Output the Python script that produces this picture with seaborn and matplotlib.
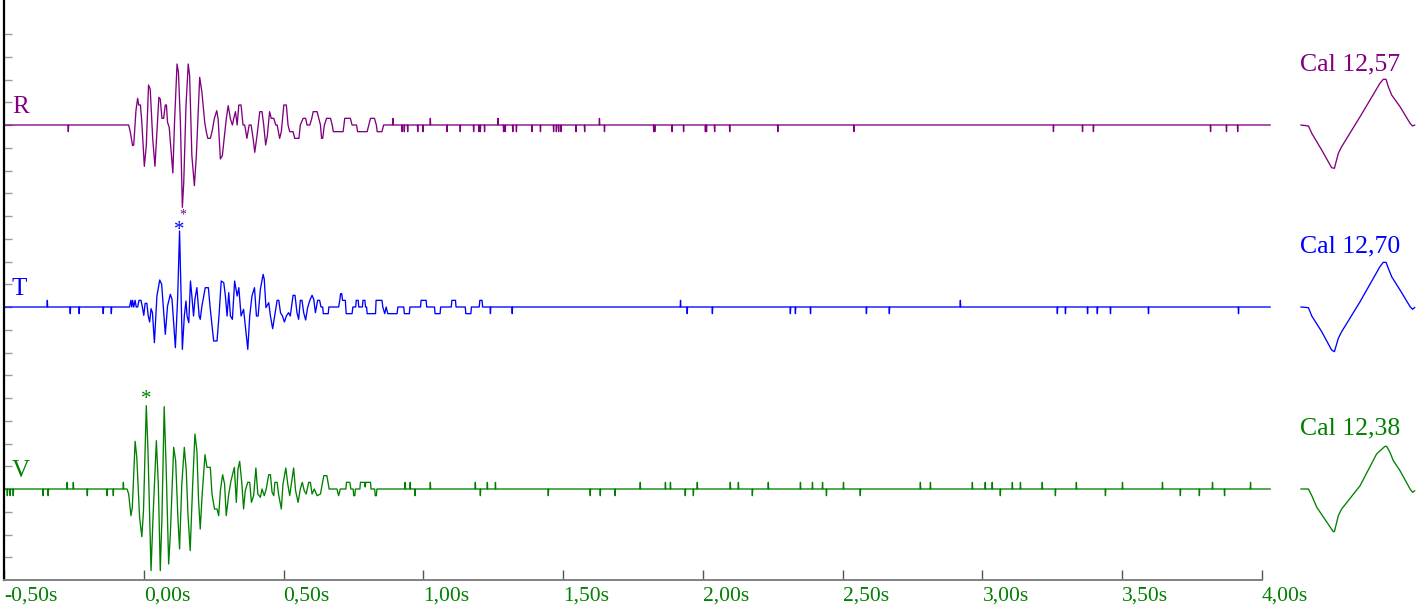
import matplotlib
matplotlib.use("Agg")
import matplotlib.pyplot as plt
import pandas as pd
import seaborn as sns

# ---------------------------------------------------------------- data ----
# time axis (seconds) and its labels
time_ticks = [-0.5, 0.0, 0.5, 1.0, 1.5, 2.0, 2.5, 3.0, 3.5, 4.0]
time_labels = ["-0,50s", "0,00s", "0,50s", "1,00s", "1,50s",
               "2,00s", "2,50s", "3,00s", "3,50s", "4,00s"]

channels = ["R", "T", "V"]
cal_values = ["12,57", "12,70", "12,38"]

# waveform turning points: (time in ms, amplitude in counts)
R_wave = [(-54, 0), (-48, -1.1), (-40, -3.1), (-36, -3.0), (-28, 2.15), (-22, 4.0),
          (-18, 3.0), (-12, 3.0), (-7, 0.4), (2, -6.2), (9, -3.1), (17, 6.0),
          (23, 5.4), (32, -2.1), (40, -6.2), (47, -1.1), (54, 4.15), (59, 3.9),
          (65, 1), (71, 1), (77, 3), (81, 3), (85, 0.4), (91, -0.35), (104, -7.2),
          (110, 0.4), (119, 9.15), (124, 7.9), (131, 0.4), (138, -12.35),
          (143, -8.6), (151, 2.9), (159, 9.15), (164, 7.4), (172, -4.6),
          (181, -9.1), (188, -4.6), (200, 7.15), (208, 4.9), (218, 0.4),
          (224, -1.1), (229, -2), (238, -2), (245, -0.85), (252, 0.9), (261, 2.15),
          (266, 0.9), (274, -5.1), (281, -4.6), (286, -2.6), (295, 0.9), (302, 2.9),
          (310, 0.9), (317, 0), (322, 1), (328, 2), (334, 0), (340, 3), (348, 3),
          (355, 0), (361, 0), (369, -2), (377, 0), (384, 0), (391, -2), (397, -4.1),
          (405, -1.6), (415, 2), (423, 2), (429, 0), (436, -3), (442, -1.6),
          (450, 2), (456, 1), (465, 1), (472, 0), (477, 0), (486, -2), (492, -1),
          (501, 3), (510, 3), (516, 0), (522, -1), (534, -1), (540, -2), (555, -2),
          (560, 0), (570, 1), (579, 1), (584, 0), (594, 0), (601, 1), (606, 2),
          (620, 2), (626, 1), (632, 0), (636, -2), (640, -2), (646, 0), (654, 1),
          (668, 1), (674, 0), (678, -1), (713, -1), (719, 1), (739, 1), (745, 0),
          (761, 0), (765, -1), (799, -1), (805, 0), (811, 1), (825, 1), (832, 0),
          (835, -1), (852, -1), (858, 0)]
R_spikes = [(-270, -1), (891, 1), (924, -1), (932, -1), (944, -1), (980, -1),
            (999, -1), (1025, 1), (1085, -1), (1132, -1), (1180, -1), (1199, -1),
            (1204, -1), (1219, -1), (1267, 1), (1287, -1), (1293, -1), (1320, -1),
            (1333, -1), (1389, -1), (1419, -1), (1466, -1), (1476, -1), (1484, -1),
            (1493, -1), (1546, -1), (1577, -1), (1630, 1), (1648, -1), (1824, -1),
            (1828, -1), (1890, -1), (1931, -1), (2009, -1), (2013, -1), (2042, -1),
            (2096, -1), (2268, -1), (2540, -1), (3254, -1), (3358, -1), (3397, -1),
            (3816, -1), (3873, -1), (3913, -1)]

T_wave = [(-51, 0), (-46, 1), (-43, 0), (-40, 1), (-36, 0), (-31, 1), (-27, 0),
          (-22, 0), (-17, 1), (-10, 1), (-5, 0), (0, -1.25), (5, 0.55), (11, 0.55),
          (16, -1.35), (21, -2.25), (26, -0.25), (31, -0.85), (38, -5.35),
          (47, 1.65), (57, 4.05), (64, 3.4), (69, 0.55), (77, -4.1), (85, 0.15),
          (95, 1.9), (101, 1.15), (113, -6.1), (121, 1.15), (128, 11.4),
          (138, -6.35), (145, -1.35), (151, 0.9), (155, -1.35), (161, -2.35),
          (167, 3.9), (172, 1.65), (178, -1.35), (183, 1.15), (190, 2.9),
          (198, -1.35), (202, -1.85), (208, 0.15), (220, 2.9), (231, 2.9),
          (238, -0.35), (250, -5.1), (262, -5.1), (269, -1.35), (277, 3.9),
          (286, 3.65), (292, 1.65), (298, -1.35), (304, 2.15), (310, -1.35),
          (317, -1.85), (325, 3.9), (334, 1.65), (340, 2.9), (348, -1.35),
          (357, -0.35), (372, -6.35), (379, -1.35), (387, 1.65), (396, 2.9),
          (403, -1.35), (409, -1.35), (417, 2.65), (427, 4.9), (431, 4.15),
          (437, -0.1), (447, 0.65), (453, -1.35), (461, -3.25), (468, -1.35),
          (477, 1), (483, 1), (489, -0.85), (496, -1.35), (503, -2.25),
          (510, -1.35), (518, -0.85), (524, -1.35), (534, 1.75), (541, 1.75),
          (548, -0.85), (554, -1.85), (560, 1), (566, 1), (572, -0.85),
          (579, -1.95), (586, -0.1), (594, 1), (602, 1.75), (608, 1.15),
          (614, -0.85), (622, 1), (629, 1), (634, 0), (640, 0), (642, -1),
          (660, -1), (662, 0), (697, 0), (701, 1), (704, 2), (708, 2), (711, 1),
          (721, 1), (724, -1), (745, -1), (748, 0), (758, 0), (760, 1), (767, 1),
          (769, 0), (782, 0), (784, 1), (791, 1), (793, 0), (797, 0), (799, -1),
          (829, -1), (831, 1), (852, 1), (855, 0), (862, -1), (867, 0), (873, -1),
          (906, -1), (909, 0), (930, 0), (932, -1), (950, -1), (952, 0), (990, 0),
          (992, 1), (1010, 1), (1012, 0), (1040, 0), (1042, -1), (1060, -1),
          (1062, 0), (1100, 0), (1102, 1), (1115, 1), (1117, 0), (1150, 0),
          (1152, -1), (1170, -1), (1172, 0), (1200, 0), (1202, 1), (1210, 1),
          (1212, 0)]
T_spikes = [(-345, 1), (-263, -1), (-231, -1), (-145, -1), (-116, -1), (1240, -1),
            (1318, -1), (1920, 1), (1944, -1), (2034, -1), (2313, -1), (2331, -1),
            (2385, -1), (2585, -1), (2667, -1), (2921, 1), (3268, -1), (3297, -1),
            (3376, -1), (3411, -1), (3458, -1), (3594, -1), (3916, -1)]

V_wave = [(-60, 0), (-54, -0.75), (-46, -4), (-41, -2.75), (-31, 7.15), (-25, 4.75),
          (-15, -4.25), (-7, -7.15), (-1, -3.25), (9, 12.5), (15, 5.75),
          (26, -12.25), (33, -4.25), (45, 7.25), (52, 0.75), (59, -12.25),
          (65, -4.25), (73, 12.35), (80, 3.25), (89, -11.25), (95, -6.75),
          (107, 6.25), (114, 4.25), (122, -4.25), (128, -9), (136, 0.75),
          (145, 6.25), (152, 2.75), (158, -3.75), (166, -9.25), (175, 0.75),
          (183, 8.25), (190, 5.75), (196, -1.75), (202, -6), (209, -0.75),
          (219, 5.15), (226, 3.25), (238, 3.25), (244, -0.75), (253, -3),
          (262, -3), (268, -4), (274, -0.25), (282, 2.15), (289, 0.75), (295, -4),
          (304, -0.75), (312, 1.25), (324, 3.25), (331, -2), (337, 3), (343, 4.15),
          (351, 0.75), (357, -3), (363, -0.25), (372, 1), (379, 1), (385, -2),
          (393, -1), (401, 3.15), (408, -0.75), (417, -1.25), (423, 0), (431, -1),
          (438, 0), (447, 2.15), (453, 2.15), (459, -0.5), (465, -1), (469, 1),
          (477, 1), (482, -0.75), (492, -3), (498, 0.75), (508, 3.15), (515, 0.75),
          (522, -1), (528, 0.75), (536, 3.15), (543, -0.25), (552, -2), (560, 0),
          (567, 1), (574, -0.25), (581, -0.75), (590, 1), (596, 1), (602, -0.75),
          (610, 0), (620, -1), (632, -0.75), (644, 2), (655, 2), (663, 0),
          (691, 0), (697, -1), (703, 0), (723, 0), (725, 1), (737, 1), (741, 0),
          (749, 0), (751, -1), (755, -1), (757, 0), (773, 0), (775, 1), (790, 1),
          (792, 0.3), (794, 1), (811, 1), (813, 0), (826, 0), (828, -1), (832, -1),
          (834, 0)]
V_spikes = [(-488, -1), (-478, -1), (-467, -1), (-360, -1), (-342, -1), (-274, 1),
            (-252, 1), (-202, -1), (-131, -1), (-109, -1), (-73, 1), (935, 1),
            (953, 1), (970, -1), (1025, 1), (1186, 1), (1204, -1), (1229, 1),
            (1258, 1), (1447, -1), (1597, -1), (1633, -1), (1686, -1), (1776, 1),
            (1866, 1), (1884, 1), (1937, -1), (1966, -1), (1980, 1), (2098, 1),
            (2127, 1), (2177, -1), (2234, 1), (2349, 1), (2392, 1), (2428, 1),
            (2442, -1), (2503, 1), (2563, -1), (2778, 1), (2814, 1), (2964, 1),
            (3010, 1), (3035, 1), (3064, -1), (3107, 1), (3136, 1), (3214, 1),
            (3261, -1), (3336, 1), (3440, -1), (3501, 1), (3644, 1), (3708, -1),
            (3776, -1), (3823, 1), (3866, -1), (3959, 1)]

# calibration pulses: (time in ms, amplitude in counts)
R_cal = [(2.5, 0), (30, -0.15), (42, -1.25), (77.5, -3.75), (113, -6.4), (123, -6.5),
         (137, -4.25), (149, -3.25), (215, 1.25), (286, 6.25), (298, 6.85),
         (308, 6.85), (316, 5.75), (328, 4.5), (358, 2.75), (394, 0.25),
         (403, -0.15), (411, 0)]
T_cal = [(2.5, 0), (30, -0.1), (42, -1.35), (77.5, -3.7), (113, -6.45), (123, -6.7),
         (137, -4.7), (149, -3.7), (215, 0.8), (286, 6.05), (298, 6.7), (308, 6.7),
         (316, 5.8), (328, 4.55), (358, 2.55), (394, 0.05), (403, -0.35),
         (411, -0.05)]
V_cal = [(2.5, 0), (30, 0), (42, -1.0), (60, -2.75), (119, -6.4), (123, -6.4),
         (137, -4.0), (149, -3.0), (215, 0.5), (274, 5.25), (304, 6.4), (310, 6.4),
         (322, 5.5), (334, 4.25), (358, 2.75), (394, 0), (403, -0.5), (411, -0.25)]

# picked phases: (time in ms, amplitude in counts) of the marked extremum
picks = {"R": (138, -12.35), "T": (128, 11.4), "V": (9, 12.5)}

# ---------------------------------------------------------------- style ---
SERIF = "Liberation Serif"
colors = {"R": "#800080", "T": "#0000ff", "V": "#008000"}
baselines = {"R": 20.0, "T": 12.0, "V": 4.0}
GAIN = 0.293          # axis units per count
W, H = 1426, 607

sns.set_theme(style="white")
plt.rcParams["font.family"] = [SERIF, "DejaVu Serif"]

fig = plt.figure(figsize=(W / 100, H / 100), dpi=100)
ax = fig.add_axes([4 / W, 27 / H, 1258 / W, 580 / H])
cax = fig.add_axes([1290 / W, 27 / H, 136 / W, 580 / H], sharey=ax)


def trace_frame(wave, spikes, base):
    pts = [(-500.0, 0.0), (4030.0, 0.0)] + list(wave)
    for t, s in spikes:
        pts += [(t - 1.2, 0.0), (t, s), (t + 1.2, 0.0)]
    pts.sort(key=lambda p: p[0])
    df = pd.DataFrame(pts, columns=["ms", "cnt"])
    df["t"] = df["ms"] / 1000.0
    df["y"] = base + df["cnt"] * GAIN
    return df


def cal_frame(cal, base):
    df = pd.DataFrame(cal, columns=["ms", "cnt"])
    df["y"] = base + df["cnt"] * GAIN
    return df


waves = {"R": (R_wave, R_spikes, R_cal), "T": (T_wave, T_spikes, T_cal),
         "V": (V_wave, V_spikes, V_cal)}

for ch, cal_txt in zip(channels, cal_values):
    wave, spikes, cal = waves[ch]
    base = baselines[ch]
    col = colors[ch]
    df = trace_frame(wave, spikes, base)
    sns.lineplot(data=df, x="t", y="y", ax=ax, color=col, lw=0.95,
                 sort=False, estimator=None, legend=False, clip_on=False)
    ax.text(-0.472, base + 0.8, ch, color=col, fontsize=18,
            ha="left", va="center")
    cdf = cal_frame(cal, base)
    sns.lineplot(data=cdf, x="ms", y="y", ax=cax, color=col, lw=0.95,
                 sort=False, estimator=None, legend=False)
    cax.text(0, base + 2.65, f"Cal {cal_txt}", color=col, fontsize=18.5,
             ha="left", va="center")

# phase pick markers
pick_style = {"R": (-5.5, 10), "T": (0.5, 15), "V": (4.2, 15)}
for ch, (t_ms, cnt) in picks.items():
    dy, fs = pick_style[ch]
    ax.annotate("*", xy=(t_ms / 1000, baselines[ch] + cnt * GAIN),
                xytext=(0, dy), textcoords="offset points", ha="center",
                va="center", color=colors[ch], fontsize=fs)

# axes styling
ax.set_xlim(-0.5, 4.0)
ax.set_ylim(0, 580 / 22.75)
ax.set_xticks(time_ticks)
ax.set_xticklabels(time_labels)
ax.set_yticks(range(1, 25))
ax.set_xlabel("")
ax.set_ylabel("")
for side in ("top", "right"):
    ax.spines[side].set_visible(False)
ax.spines["left"].set_color("black")
ax.spines["left"].set_linewidth(1.6)
ax.spines["bottom"].set_color("#808080")
ax.spines["bottom"].set_linewidth(1.4)
ax.tick_params(axis="y", direction="in", length=6, width=1.0,
               color="#9a9a9a", labelleft=False, left=True)
ax.tick_params(axis="x", direction="in", length=7.5, width=1.0,
               color="#555555", labelcolor="#008000", labelsize=15.5, pad=5,
               bottom=True)
for lab in ax.get_xticklabels():
    lab.set_ha("left")
ax.set_facecolor("white")

cax.set_xlim(-36, 451)
cax.axis("off")

fig.savefig("out.png", dpi=100, facecolor="white")
